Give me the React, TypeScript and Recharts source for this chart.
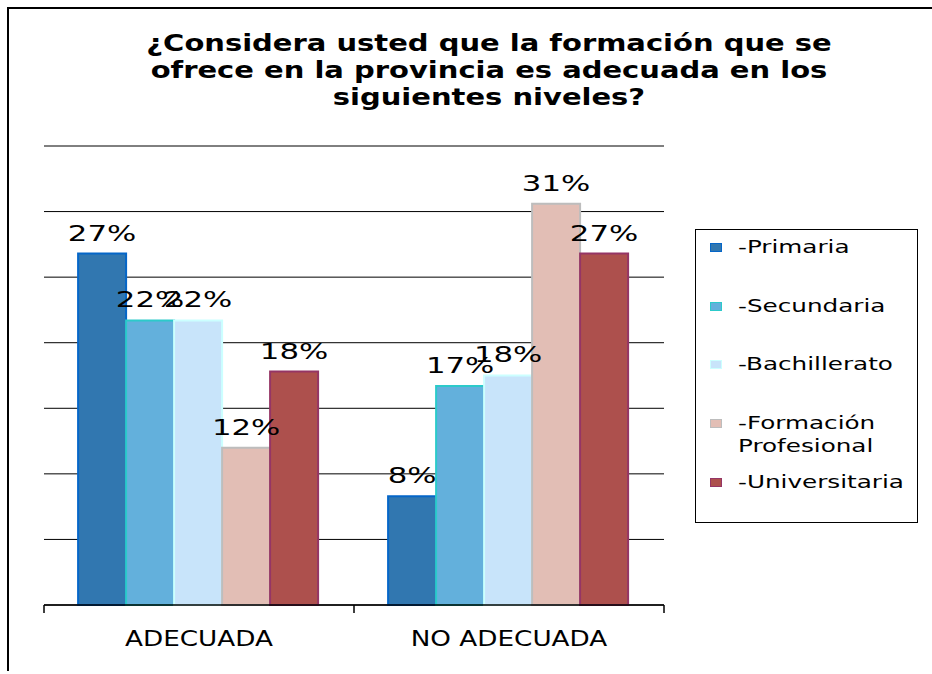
import React from 'react'
import { BarChart, Bar, XAxis, YAxis, CartesianGrid, LabelList, Legend } from 'recharts'

const categories = ['ADECUADA', 'NO ADECUADA']
const primaria = [26.8, 8.3]
const secundaria = [21.7, 16.7]
const bachillerato = [21.7, 17.5]
const formacionProfesional = [12, 30.6]
const universitaria = [17.8, 26.8]
const yTicks = [0, 5, 10, 15, 20, 25, 30, 35]

const series = [
  { key: 'primaria', name: '-Primaria', fill: '#3177b0', stroke: '#0566c8' },
  { key: 'secundaria', name: '-Secundaria', fill: '#63b0dc', stroke: '#2ccaca' },
  { key: 'bachillerato', name: '-Bachillerato', fill: '#c8e4fa', stroke: '#ccffff' },
  { key: 'fp', name: '-Formación Profesional', fill: '#e2beb5', stroke: '#bdbdbd' },
  { key: 'universitaria', name: '-Universitaria', fill: '#ad504d', stroke: '#953565' },
]

const data = categories.map((c, i) => ({
  name: c,
  primaria: primaria[i],
  secundaria: secundaria[i],
  bachillerato: bachillerato[i],
  fp: formacionProfesional[i],
  universitaria: universitaria[i],
}))

// the source picture is stretched sideways, so texts get a scaleX
const ValueLabel = (props: any) => {
  const { x, y, width, value } = props
  const cx = x + width / 2
  return (
    <text
      x={cx}
      y={y - 13}
      textAnchor="middle"
      fontFamily="DejaVu Sans"
      fontSize={22}
      fill="#000"
      transform={`translate(${cx},0) scale(1.4,1) translate(${-cx},0)`}
    >
      {Math.round(value)}%
    </text>
  )
}

const CategoryTick = (props: any) => {
  const { x, y, payload, index, visibleTicksCount } = props
  const half = payload.offset || 155
  const top = y - 8
  return (
    <g>
      <line x1={x - half} y1={top} x2={x - half} y2={top + 8} stroke="#000" strokeWidth={1.5} />
      {index === visibleTicksCount - 1 && (
        <line x1={x + half} y1={top} x2={x + half} y2={top + 8} stroke="#000" strokeWidth={1.5} />
      )}
      <text
        x={x}
        y={top + 41}
        textAnchor="middle"
        fontFamily="DejaVu Sans"
        fontSize={21}
        fill="#000"
        transform={`translate(${x},0) scale(1.25,1) translate(${-x},0)`}
      >
        {payload.value}
      </text>
    </g>
  )
}

const LegendBox = () => (
  <div
    style={{
      position: 'relative',
      width: 223,
      height: 294,
      border: '1.5px solid #000',
      boxSizing: 'border-box',
      background: '#fff',
      fontFamily: 'DejaVu Sans',
      fontSize: 17,
      color: '#000',
    }}
  >
    {series.map((s, i) => (
      <div key={s.key} style={{ position: 'absolute', left: 14, top: 6 + i * 58.7, lineHeight: '23px' }}>
        <span
          style={{
            position: 'absolute',
            left: 0,
            top: 7,
            width: 12,
            height: 9,
            background: s.fill,
            border: `1.5px solid ${s.stroke}`,
            boxSizing: 'border-box',
          }}
        />
        <div
          style={{
            marginLeft: 28,
            width: 140,
            whiteSpace: 'nowrap',
            transform: 'scaleX(1.45)',
            transformOrigin: 'left center',
          }}
        >
          {s.key === 'fp' ? (
            <>
              -Formación
              <br />
              Profesional
            </>
          ) : (
            s.name
          )}
        </div>
      </div>
    ))}
  </div>
)

const App = () => {
  return (
    <div style={{ position: 'fixed', left: 0, top: 0, width: 932, height: 674, background: '#fff', overflow: 'hidden' }}>
      <div
        style={{
          position: 'absolute',
          left: 7,
          top: 7,
          width: 930,
          height: 662,
          borderTop: '2px solid #000',
          borderLeft: '2px solid #000',
        }}
      />
      <div
        style={{
          position: 'absolute',
          left: 89,
          top: 30,
          width: 800,
          textAlign: 'center',
          fontFamily: 'DejaVu Sans',
          fontWeight: 'bold',
          fontSize: 23,
          lineHeight: '27px',
          color: '#000',
          whiteSpace: 'nowrap',
          transform: 'scaleX(1.26)',
          transformOrigin: 'center',
        }}
      >
        ¿Considera usted que la formación que se
        <br />
        ofrece en la provincia es adecuada en los
        <br />
        siguientes niveles?
      </div>
      <div style={{ position: 'absolute', left: 0, top: 0 }}>
        <BarChart
          width={932}
          height={674}
          data={data}
          margin={{ top: 146, right: 268, bottom: 19, left: 44 }}
          barGap={0}
          barCategoryGap="11%"
        >
          <CartesianGrid vertical={false} horizontal={{ shapeRendering: 'crispEdges' } as any} stroke="#000" strokeWidth={1} />
          <YAxis hide domain={[0, 35]} ticks={yTicks} width={0} />
          <XAxis
            dataKey="name"
            axisLine={{ stroke: '#000', strokeWidth: 1.5 }}
            tickLine={false}
            tickSize={8}
            tickMargin={0}
            height={50}
            tick={<CategoryTick />}
            interval={0}
          />
          <Legend
            layout="vertical"
            align="center"
            verticalAlign="middle"
            wrapperStyle={{ left: 695, top: 229, width: 223, height: 294 }}
            content={() => <LegendBox />}
          />
          {series.map((s) => (
            <Bar
              key={s.key}
              dataKey={s.key}
              name={s.name}
              fill={s.fill}
              stroke={s.stroke}
              strokeWidth={2}
              isAnimationActive={false}
            >
              <LabelList dataKey={s.key} content={<ValueLabel />} />
            </Bar>
          ))}
        </BarChart>
      </div>
    </div>
  )
}

export default App
